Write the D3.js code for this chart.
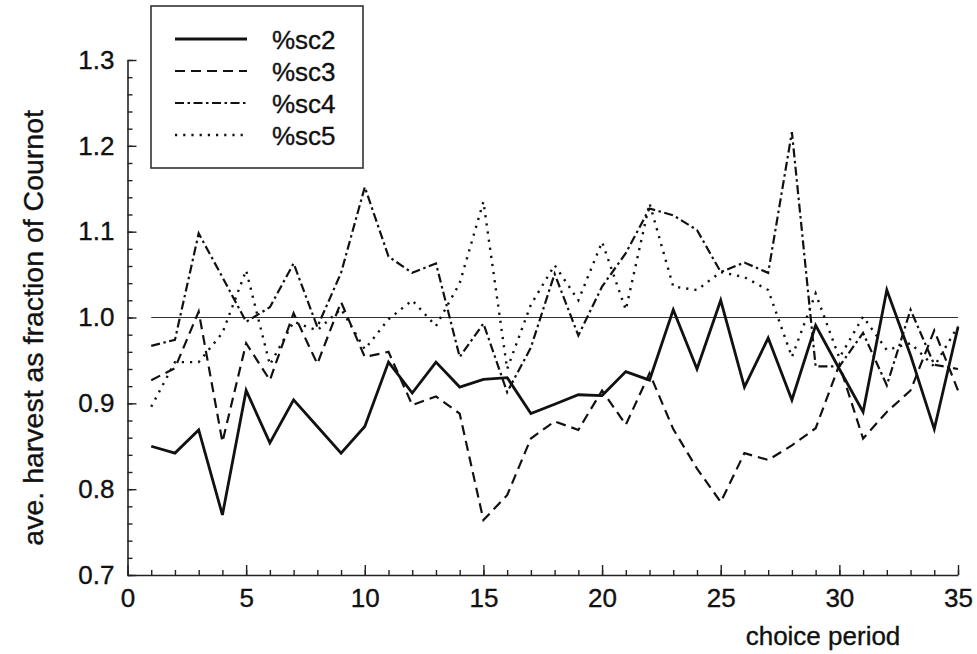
<!DOCTYPE html>
<html>
<head>
<meta charset="utf-8">
<script src="https://cdn.jsdelivr.net/npm/d3@7"></script>
<style>
  body { margin: 0; background: #fff; }
  svg text { font-family: "Liberation Sans", Arial, sans-serif; fill: #111; stroke: #111; stroke-width: 0.35px; }
</style>
</head>
<body>
<div id="chart"></div>
<script>
const periods = d3.range(1, 36);

const sc2 = [0.850, 0.842, 0.869, 0.770, 0.915, 0.854, 0.904, 0.873, 0.842, 0.873,
  0.948, 0.912, 0.948, 0.919, 0.928, 0.930, 0.888, 0.899, 0.910, 0.909,
  0.937, 0.927, 1.009, 0.940, 1.020, 0.919, 0.976, 0.904, 0.991, 0.940,
  0.890, 1.032, 0.956, 0.870, 0.989];

const sc3 = [0.927, 0.941, 1.007, 0.855, 0.970, 0.927, 1.005, 0.946, 1.018, 0.954,
  0.960, 0.898, 0.908, 0.888, 0.764, 0.793, 0.859, 0.879, 0.869, 0.915,
  0.875, 0.935, 0.870, 0.824, 0.785, 0.842, 0.834, 0.851, 0.871, 0.945,
  0.859, 0.890, 0.915, 0.985, 0.915];

const sc4 = [0.967, 0.974, 1.098, 1.047, 0.995, 1.012, 1.063, 0.989, 1.052, 1.152,
  1.071, 1.052, 1.063, 0.954, 0.993, 0.913, 0.965, 1.051, 0.979, 1.036,
  1.075, 1.127, 1.119, 1.102, 1.053, 1.064, 1.052, 1.216, 0.943, 0.943,
  0.982, 0.921, 1.009, 0.945, 0.940];

const sc5 = [0.896, 0.948, 0.948, 0.982, 1.055, 0.945, 0.995, 0.985, 1.010, 0.963,
  0.998, 1.020, 0.990, 1.040, 1.135, 0.940, 1.015, 1.061, 1.020, 1.088,
  1.009, 1.133, 1.036, 1.032, 1.053, 1.047, 1.032, 0.954, 1.028, 0.953,
  1.001, 0.962, 0.970, 0.943, 0.990];

const seriesNames = ["%sc2", "%sc3", "%sc4", "%sc5"];
const xMajorTicks = [0, 5, 10, 15, 20, 25, 30, 35];
const yMajorTicks = [0.7, 0.8, 0.9, 1.0, 1.1, 1.2, 1.3];

const width = 977,
  height = 654;

const styles = [
  { dash: null, w: 2.8 },
  { dash: "10,6", w: 2.2 },
  { dash: "9,3.5,2.5,3.5", w: 2.2 },
  { dash: "2.2,6", w: 2.4 }
];

const svg = d3
  .select("#chart")
  .append("svg")
  .attr("width", width)
  .attr("height", height);

const xScale = d3.scaleLinear().domain([0, 35]).range([127.5, 958]);
const yScale = d3.scaleLinear().domain([0.7, 1.3]).range([575, 60]);

// minor ticks
svg
  .append("g")
  .attr("transform", "translate(0," + yScale(0.7) + ")")
  .call(d3.axisBottom(xScale).tickValues(d3.range(0, 36)).tickSize(-5).tickSizeOuter(0).tickFormat(""))
  .call((g) => g.select(".domain").remove());

svg
  .append("g")
  .attr("transform", "translate(" + xScale(0) + ",0)")
  .call(d3.axisLeft(yScale).tickValues(d3.range(0, 31).map((i) => 0.7 + i * 0.02)).tickSize(-5).tickSizeOuter(0).tickFormat(""))
  .call((g) => g.select(".domain").remove());

// major axes
svg
  .append("g")
  .attr("transform", "translate(0," + yScale(0.7) + ")")
  .call(d3.axisBottom(xScale).tickValues(xMajorTicks).tickSize(-10).tickSizeOuter(0).tickPadding(14));

svg
  .append("g")
  .attr("transform", "translate(" + xScale(0) + ",0)")
  .call(d3.axisLeft(yScale).tickValues(yMajorTicks).tickSize(-9).tickSizeOuter(0).tickPadding(13).tickFormat(d3.format(".1f")));

svg.selectAll(".tick line").attr("stroke", "#222").attr("stroke-width", 1.4);
svg.selectAll(".domain").attr("stroke", "#222").attr("stroke-width", 1.6);
svg.selectAll(".tick text").attr("font-size", 26).attr("fill", "#111")
  .style("font-family", '"Liberation Sans", Arial, sans-serif');

// reference line at 1.0
svg
  .append("line")
  .attr("x1", xScale(1))
  .attr("x2", xScale(35))
  .attr("y1", yScale(1))
  .attr("y2", yScale(1))
  .attr("stroke", "#333")
  .attr("stroke-width", 1.2);

const line = d3
  .line()
  .x((d, i) => xScale(periods[i]))
  .y((d) => yScale(d));

[sc2, sc3, sc4, sc5].forEach((s, k) => {
  svg
    .append("path")
    .datum(s)
    .attr("d", line)
    .attr("fill", "none")
    .attr("stroke", "#111")
    .attr("stroke-width", styles[k].w)
    .attr("stroke-dasharray", styles[k].dash)
    .attr("stroke-linejoin", "miter");
});

// legend
const legend = svg.append("g");
legend
  .append("rect")
  .attr("x", 151)
  .attr("y", 6)
  .attr("width", 212)
  .attr("height", 162)
  .attr("fill", "#fff")
  .attr("stroke", "#333")
  .attr("stroke-width", 1.6);

seriesNames.forEach((name, k) => {
  const y = 39 + k * 32;
  legend
    .append("line")
    .attr("x1", 175)
    .attr("x2", 247)
    .attr("y1", y)
    .attr("y2", y)
    .attr("stroke", "#111")
    .attr("stroke-width", styles[k].w)
    .attr("stroke-dasharray", styles[k].dash);
  legend
    .append("text")
    .attr("x", 272)
    .attr("y", y + 9.5)
    .attr("font-size", 26)
    .text(name);
});

// axis titles
svg
  .append("text")
  .attr("transform", "translate(43,110) rotate(-90)")
  .attr("text-anchor", "end")
  .attr("font-size", 28.5)
  .text("ave. harvest as fraction of Cournot");

svg
  .append("text")
  .attr("x", 823)
  .attr("y", 645)
  .attr("text-anchor", "middle")
  .attr("font-size", 26)
  .text("choice period");
</script>
</body>
</html>
